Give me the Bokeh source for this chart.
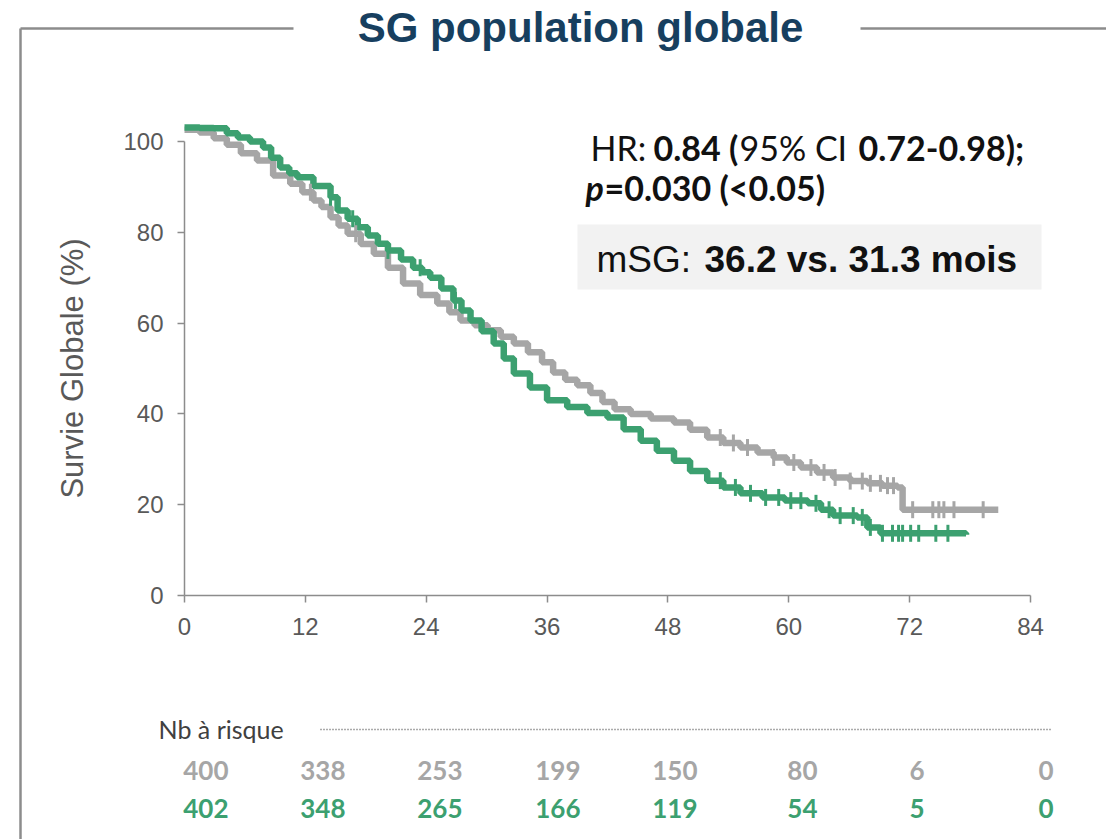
import numpy as np
from bokeh.plotting import figure
from bokeh.models import Range1d, FixedTicker
from bokeh.core.properties import value
from bokeh.embed import file_html
from bokeh.resources import INLINE

# ---------------- data ----------------
grey_t = [0, 1.5, 2.9, 4.2, 5.6, 7.2, 8.8, 10.5, 11.7, 12.8, 13.6, 14.5, 15.3, 16.2, 17.5, 18.8,
          20.2, 21.7, 23.4, 25.1, 26.3, 27.4, 28.8, 30.1, 31.4, 32.7, 34.1, 35.5, 36.6, 37.8,
          39.0, 40.3, 41.5, 42.7, 44.3, 46.3, 48.6, 50.2, 51.9, 53.5, 55.2, 56.9, 58.5, 59.8,
          61.2, 62.8, 64.4, 66.1, 67.8, 69.3, 70.8, 71.3, 80.8]
grey_s = [102.6, 102.0, 100.7, 99.3, 97.4, 95.8, 92.5, 90.7, 88.8, 87.0, 85.6, 83.3, 81.5, 79.7,
          77.4, 75.3, 72.2, 68.7, 66.2, 64.3, 62.4, 60.6, 59.5, 58.4, 57.0, 55.5, 53.6, 51.4,
          49.1, 47.5, 46.3, 44.6, 42.6, 41.0, 40.0, 39.0, 38.1, 36.5, 34.8, 33.6, 32.6, 31.5,
          30.4, 29.3, 28.2, 27.1, 26.0, 25.2, 24.7, 24.2, 23.8, 18.9, 18.9]

green_t = [0, 1.5, 2.9, 4.2, 5.3, 6.5, 7.8, 8.6, 9.5, 10.4, 11.2, 12.8, 14.5, 15.2, 16.2, 17.2,
           18.2, 19.2, 20.2, 21.5, 22.7, 23.6, 24.4, 25.5, 26.7, 27.5, 28.4, 29.5, 30.7, 31.7,
           32.7, 34.3, 36.0, 38.0, 40.0, 42.0, 43.6, 45.3, 46.9, 48.6, 50.2, 51.9, 53.5, 55.2,
           57.4, 59.6, 61.9, 63.2, 64.4, 66.8, 67.8, 69.1, 77.6]
green_s = [103.1, 103.0, 102.9, 101.8, 100.9, 100.0, 98.7, 96.4, 94.3, 93.0, 92.1, 90.2, 87.7,
           84.8, 83.0, 81.1, 79.3, 77.5, 76.0, 74.0, 72.2, 71.2, 70.0, 67.6, 65.0, 62.8, 60.6,
           58.2, 55.5, 52.2, 48.9, 45.8, 43.0, 41.5, 40.2, 39.2, 36.6, 34.1, 31.9, 29.7, 27.4,
           25.3, 23.8, 22.5, 21.6, 20.9, 20.3, 18.9, 17.6, 17.2, 15.0, 13.7, 13.4]

grey_censor = [12.5, 17.0, 53.2, 54.5, 55.9, 58.5, 60.5, 62.2, 63.5, 64.6, 66.1, 67.3, 68.1,
               69.1, 69.8, 70.4, 72.3, 74.3, 74.9, 75.4, 76.4, 79.3]
green_censor = [14.5, 16.7, 20.2, 23.4, 26.9, 53.2, 54.7, 56.2, 57.7, 59.0, 60.2, 61.2, 62.7,
                64.0, 65.1, 66.4, 67.3, 68.1, 69.3, 70.3, 70.9, 71.3, 72.1, 72.9, 74.6, 75.8]

x_ticks = [0, 12, 24, 36, 48, 60, 72, 84]
y_ticks = [0, 20, 40, 60, 80, 100]

risk_grey = [400, 338, 253, 199, 150, 80, 6, 0]
risk_green = [402, 348, 265, 166, 119, 54, 5, 0]

title_text = "SG population globale"
ylabel_text = "Survie Globale (%)"
risk_label = "Nb à risque"

# ---------------- layout helpers (pixel -> data) ----------------
W, H = 1106, 839
X0_PX, X84_PX = 184, 1030
Y0_PX, Y100_PX = 595, 141
kx = (X84_PX - X0_PX) / 84.0
ky = (Y0_PX - Y100_PX) / 100.0


def dx(px):
    return (px - X0_PX) / kx


def dy(py):
    return (Y0_PX - py) / ky


GREY = "#a6a6a6"
GREEN = "#3ca070"
NAVY = "#173f5f"
AX = "#8c8c8c"
TXT = "#595959"
CAL = value("Lato")
ARIAL = value("Liberation Sans")

p = figure(width=W, height=H, x_range=Range1d(dx(0), dx(W)), y_range=Range1d(dy(H), dy(0)),
           output_backend="svg", toolbar_location=None, min_border=0, title=None)
p.outline_line_color = None
p.grid.visible = False
p.background_fill_color = "white"
p.border_fill_color = "white"

# axes placed at the origin
for ax in (p.xaxis[0], p.yaxis[0]):
    ax.fixed_location = 0
    ax.axis_line_color = AX
    ax.axis_line_width = 1.5
    ax.major_tick_line_color = AX
    ax.major_tick_line_width = 1.5
    ax.major_tick_in = 0
    ax.major_tick_out = 7
    ax.minor_tick_line_color = None
    ax.major_label_text_font = "Liberation Sans"
    ax.major_label_text_font_size = "24px"
    ax.major_label_text_color = TXT
p.xaxis[0].ticker = FixedTicker(ticks=x_ticks)
p.yaxis[0].ticker = FixedTicker(ticks=y_ticks)
p.xaxis[0].bounds = (x_ticks[0], x_ticks[-1])
p.yaxis[0].bounds = (y_ticks[0], y_ticks[-1])
p.xaxis[0].major_label_standoff = 15
p.yaxis[0].major_label_standoff = 14
p.yaxis[0].axis_label = ylabel_text
p.yaxis[0].axis_label_text_font = "Liberation Sans"
p.yaxis[0].axis_label_text_font_size = "31px"
p.yaxis[0].axis_label_text_font_style = "normal"
p.yaxis[0].axis_label_text_color = TXT
p.yaxis[0].axis_label_standoff = 30

# frame box with gap for the title
p.line([dx(20), dx(20)], [dy(H + 5), dy(28)], line_color=AX, line_width=2.5)
p.line([dx(20), dx(293)], [dy(28), dy(28)], line_color=AX, line_width=2.5)
p.line([dx(860), dx(W + 5)], [dy(28), dy(28)], line_color=AX, line_width=2.5)

p.text(x=[dx(580)], y=[dy(27)], text=[title_text], text_font=ARIAL, text_font_size="42px",
       text_font_style="bold", text_color=NAVY, text_align="center", text_baseline="alphabetic")

# KM curves
p.step(grey_t, grey_s, mode="after", line_color=GREY, line_width=6.5)
p.step(green_t, green_s, mode="after", line_color=GREEN, line_width=6.5)


def surv_at(ts, ss, t):
    i = np.searchsorted(np.array(ts), t, side="right") - 1
    return ss[max(i, 0)]


p.scatter(grey_censor, [surv_at(grey_t, grey_s, t) for t in grey_censor], marker="dash",
          angle=np.pi / 2, size=17, line_color=GREY, line_width=3)
p.scatter(green_censor, [surv_at(green_t, green_s, t) for t in green_censor], marker="dash",
          angle=np.pi / 2, size=17, line_color=GREEN, line_width=3)

# annotations
common = dict(text_font=CAL, text_font_size="34px", text_color="#111111", text_baseline="alphabetic",
              text_align="left")
p.text(x=[dx(590)], y=[dy(147)], text=["HR:"], **common)
p.text(x=[dx(653)], y=[dy(147)], text=["0.84 ("], text_font_style="bold", **common)
p.text(x=[dx(739)], y=[dy(147)], text=["95% CI"], **common)
p.text(x=[dx(858)], y=[dy(147)], text=["0.72-0.98);"], text_font_style="bold", **common)
p.text(x=[dx(585)], y=[dy(187)], text=["p"], text_font_style="bold italic", **common)
p.text(x=[dx(604)], y=[dy(187)], text=["=0.030 (<0.05)"], text_font_style="bold", **common)

p.quad(left=[dx(577)], right=[dx(1041)], top=[dy(224)], bottom=[dy(289)], fill_color="#f2f2f2",
       line_color=None)
big = dict(text_font=ARIAL, text_font_size="37px", text_color="#111111", text_baseline="alphabetic",
           text_align="left")
p.text(x=[dx(596)], y=[dy(259)], text=["mSG:"], **big)
p.text(x=[dx(704)], y=[dy(259)], text=["36.2 vs. 31.3 mois"], text_font_style="bold", **big)

# risk table
p.text(x=[dx(158)], y=[dy(728)], text=[risk_label], text_font=CAL, text_font_size="25px",
       text_color="#404040", text_baseline="middle", text_align="left")
p.line([dx(320), dx(1050)], [dy(729), dy(729)], line_color="#595959", line_width=1.5, line_dash="1 2")
RISK_COL_PX = [228, 345, 462, 580, 697, 817, 924, 1053]
p.text(x=[dx(v) for v in RISK_COL_PX], y=[dy(770)] * len(risk_grey), text=[str(v) for v in risk_grey],
       text_font=CAL, text_font_size="26px", text_font_style="bold", text_color=GREY,
       text_align="right", text_baseline="middle")
p.text(x=[dx(v) for v in RISK_COL_PX], y=[dy(808)] * len(risk_green), text=[str(v) for v in risk_green],
       text_font=CAL, text_font_size="26px", text_font_style="bold", text_color=GREEN,
       text_align="right", text_baseline="middle")

open("out.html", "w").write(file_html(p, INLINE))
